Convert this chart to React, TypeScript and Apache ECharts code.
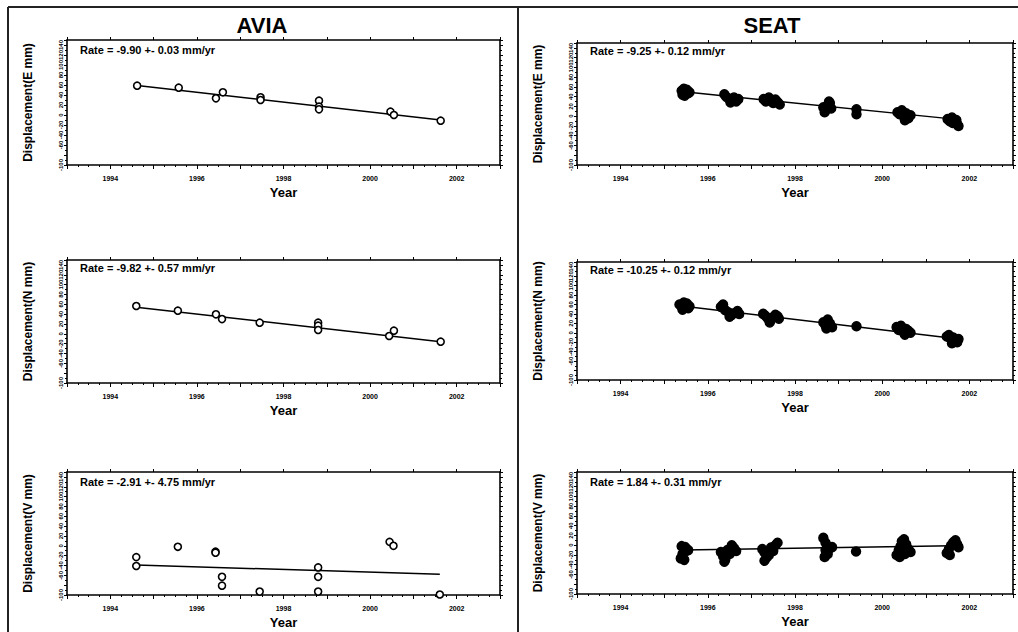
import React, { useEffect, useRef } from "react";
import * as echarts from "echarts";

// ---- tick labels ----
const xTickLabels = [1994, 1996, 1998, 2000, 2002];
const yTickLabels = [-100, -80, -60, -40, -20, 0, 20, 40, 60, 80, 100, 120, 140];

// ---- titles / texts ----
const stations = ["AVIA", "SEAT"];
const rateTexts = [
  "Rate = -9.90 +- 0.03 mm/yr",
  "Rate = -9.25 +- 0.12 mm/yr",
  "Rate = -9.82 +- 0.57 mm/yr",
  "Rate = -10.25 +- 0.12 mm/yr",
  "Rate = -2.91 +- 4.75 mm/yr",
  "Rate = 1.84 +- 0.31 mm/yr",
];

// ---- AVIA E ----
const aviaEYears = [1994.62, 1995.58, 1996.44, 1996.6, 1997.47, 1997.47, 1998.82, 1998.82, 1998.82, 2000.47, 2000.55, 2001.63];
const aviaEVals = [58.6, 54.6, 33.4, 45.4, 35.4, 30, 28.6, 16.6, 11.4, 6.6, 0, -11.4];
const aviaEFitYears = [1994.62, 2001.63];
const aviaEFitVals = [59, -10];

// ---- AVIA N ----
const aviaNYears = [1994.6, 1995.56, 1996.44, 1996.58, 1997.45, 1998.8, 1998.8, 1998.8, 2000.44, 2000.55, 2001.63];
const aviaNVals = [56.5, 47, 39.6, 30, 22.6, 22.6, 16.5, 7.7, -4.5, 6.3, -16];
const aviaNFitYears = [1994.6, 2001.63];
const aviaNFitVals = [54, -16];

// ---- AVIA V ----
const aviaVYears = [1994.6, 1994.6, 1995.56, 1996.43, 1996.43, 1996.58, 1996.58, 1997.45, 1998.8, 1998.8, 1998.8, 2000.45, 2000.54, 2001.61];
const aviaVVals = [-23, -41, -2, -12, -14, -63, -81, -93, -44, -63, -93, 8, 0, -99];
const aviaVFitYears = [1994.6, 2001.61];
const aviaVFitVals = [-39, -58];

// ---- SEAT E ----
const seatEYears = [
  1995.4, 1995.45, 1995.5, 1995.55, 1995.42, 1995.52, 1995.47, 1995.58,
  1996.38, 1996.42, 1996.48, 1996.55, 1996.6, 1996.65, 1996.7, 1996.52,
  1997.28, 1997.33, 1997.4, 1997.45, 1997.5, 1997.55, 1997.6, 1997.65,
  1998.65, 1998.7, 1998.75, 1998.8, 1998.83, 1998.68, 1998.78,
  1999.41, 1999.41,
  2000.35, 2000.4, 2000.45, 2000.5, 2000.55, 2000.6, 2000.65, 2000.52,
  2001.5, 2001.55, 2001.6, 2001.65, 2001.7, 2001.72, 2001.75, 2001.62,
];
const seatEVals = [
  52, 56, 50, 47, 44, 54, 42, 49,
  45, 40, 36, 33, 38, 30, 35, 28,
  35, 30, 38, 32, 27, 34, 29, 24,
  18, 12, 22, 27, 16, 8, 30,
  14, 4,
  8, 4, 12, 0, 6, -4, 2, -8,
  -6, -10, -3, -12, -8, -16, -20, -14,
];
const seatEFitYears = [1995.45, 2001.65];
const seatEFitVals = [50, -6];

// ---- SEAT N ----
const seatNYears = [
  1995.35, 1995.4, 1995.45, 1995.5, 1995.55, 1995.42, 1995.52, 1995.58,
  1996.3, 1996.35, 1996.4, 1996.48, 1996.55, 1996.62, 1996.68, 1996.72, 1996.5,
  1997.27, 1997.32, 1997.38, 1997.44, 1997.5, 1997.55, 1997.6, 1997.63, 1997.42,
  1998.65, 1998.7, 1998.75, 1998.8, 1998.85, 1998.72,
  1999.41,
  2000.33, 2000.38, 2000.43, 2000.48, 2000.55, 2000.6, 2000.65, 2000.52,
  2001.48, 2001.53, 2001.58, 2001.63, 2001.68, 2001.72, 2001.75, 2001.6,
];
const seatNVals = [
  60, 55, 64, 58, 52, 49, 62, 56,
  55, 60, 48, 43, 38, 42, 46, 40, 34,
  40, 36, 30, 26, 33, 38, 35, 30, 22,
  22, 16, 28, 20, 12, 9,
  14,
  12, 6, 15, 2, 8, 4, 0, -4,
  -8, -5, -12, -10, -15, -20, -13, -22,
];
const seatNFitYears = [1995.4, 2001.66];
const seatNFitVals = [57, -12];

// ---- SEAT V ----
const seatVYears = [
  1995.4, 1995.45, 1995.5, 1995.42, 1995.48, 1995.38, 1995.55, 1995.46,
  1996.3, 1996.35, 1996.4, 1996.45, 1996.5, 1996.55, 1996.6, 1996.65, 1996.38,
  1997.25, 1997.3, 1997.35, 1997.4, 1997.45, 1997.5, 1997.55, 1997.6, 1997.3,
  1998.65, 1998.7, 1998.75, 1998.7, 1998.8, 1998.75, 1998.68, 1998.85,
  1999.4,
  2000.33, 2000.38, 2000.42, 2000.45, 2000.5, 2000.55, 2000.6, 2000.65, 2000.4, 2000.52,
  2001.48, 2001.53, 2001.58, 2001.63, 2001.68, 2001.72, 2001.75, 2001.55,
];
const seatVVals = [
  -2, -8, -12, -18, -4, -27, -10, -30,
  -14, -22, -30, -10, -18, 0, -6, -12, -34,
  -8, -15, -25, -20, -5, -12, 0, 5, -32,
  15, 5, -2, -10, -6, -18, -24, -4,
  -13,
  -20, -10, -2, 8, 12, 2, -8, -14, -24, -18,
  -16, -8, 0, 6, 10, 2, -4, -20,
];
const seatVFitYears = [1995.45, 2001.6];
const seatVFitVals = [-10, -1];

const FONT = "Liberation Sans, Arial, sans-serif";

const zip = (xs: number[], ys: number[]) => xs.map((x, i) => [x, ys[i]]);

// panel order: row-major (AVIA E, SEAT E, AVIA N, SEAT N, AVIA V, SEAT V)
const panels = [
  { pts: zip(aviaEYears, aviaEVals), fit: zip(aviaEFitYears, aviaEFitVals), comp: "E", seat: false },
  { pts: zip(seatEYears, seatEVals), fit: zip(seatEFitYears, seatEFitVals), comp: "E", seat: true },
  { pts: zip(aviaNYears, aviaNVals), fit: zip(aviaNFitYears, aviaNFitVals), comp: "N", seat: false },
  { pts: zip(seatNYears, seatNVals), fit: zip(seatNFitYears, seatNFitVals), comp: "N", seat: true },
  { pts: zip(aviaVYears, aviaVVals), fit: zip(aviaVFitYears, aviaVFitVals), comp: "V", seat: false },
  { pts: zip(seatVYears, seatVVals), fit: zip(seatVFitYears, seatVFitVals), comp: "V", seat: true },
];

// layout (pixels)
const gridBoxes = [
  { left: 67, top: 40, width: 433, height: 125 },
  { left: 577, top: 43, width: 436, height: 122 },
  { left: 67, top: 260, width: 433, height: 123 },
  { left: 577, top: 262, width: 436, height: 118 },
  { left: 67, top: 472, width: 433, height: 123 },
  { left: 577, top: 472, width: 436, height: 122 },
];
const ratePos = [
  [80, 50], [590, 51], [80, 268], [590, 270], [80, 482], [590, 482],
];

function buildOption() {
  const grid: any[] = [];
  const xAxis: any[] = [];
  const yAxis: any[] = [];
  const series: any[] = [];
  const line = { show: true, lineStyle: { color: "#000", width: 1.6 } };

  panels.forEach((p, i) => {
    grid.push({ ...gridBoxes[i], containLabel: false });
    xAxis.push({
      gridIndex: i,
      type: "value",
      min: 1993,
      max: 2003,
      interval: 1,
      position: "bottom",
      axisLine: { ...line, onZero: false },
      axisTick: { show: true, length: 4, lineStyle: { color: "#000", width: 1 } },
      minorTick: { show: true, splitNumber: 4, length: 2, lineStyle: { color: "#000" } },
      splitLine: { show: false },
      axisLabel: {
        formatter: (v: number) => (xTickLabels.includes(v) ? String(v) : ""),
        fontSize: 7,
        fontWeight: "bold",
        fontFamily: FONT,
        color: "#000",
        margin: 10,
      },
      name: "Year",
      nameLocation: "middle",
      nameGap: 21,
      nameTextStyle: { fontSize: 13, fontWeight: "bold", fontFamily: FONT, color: "#000" },
    });
    xAxis.push({
      gridIndex: i,
      type: "value",
      min: 1993,
      max: 2003,
      interval: 1,
      position: "top",
      axisLine: { ...line, onZero: false },
      axisTick: { show: true, length: 3, lineStyle: { color: "#000", width: 1 } },
      axisLabel: { show: false },
      splitLine: { show: false },
    });
    yAxis.push({
      gridIndex: i,
      type: "value",
      min: -100,
      max: 150,
      interval: 20,
      position: "left",
      axisLine: { ...line, onZero: false },
      axisTick: { show: true, length: 3, lineStyle: { color: "#000", width: 1 } },
      minorTick: { show: true, splitNumber: 2, length: 2, lineStyle: { color: "#000" } },
      splitLine: { show: false },
      axisLabel: {
        rotate: 90,
        fontSize: 6,
        fontWeight: "bold",
        fontFamily: FONT,
        color: "#000",
        margin: 3,
        showMinLabel: true,
        showMaxLabel: false,
        hideOverlap: false,
        formatter: (v: number) => (yTickLabels.includes(v) ? String(v) : ""),
      },
      name: "Displacement(" + p.comp + " mm)",
      nameLocation: "middle",
      nameRotate: 90,
      nameGap: 33,
      nameTextStyle: { fontSize: 12, fontWeight: "bold", fontFamily: FONT, color: "#000" },
    });
    yAxis.push({
      gridIndex: i,
      type: "value",
      min: -100,
      max: 150,
      interval: 20,
      position: "right",
      axisLine: { ...line, onZero: false },
      axisTick: { show: true, length: 3, lineStyle: { color: "#000", width: 1 } },
      minorTick: { show: true, splitNumber: 2, length: 2, lineStyle: { color: "#000" } },
      axisLabel: { show: false },
      splitLine: { show: false },
    });
    series.push({
      type: "line",
      xAxisIndex: 2 * i,
      yAxisIndex: 2 * i,
      data: p.fit,
      symbol: "none",
      lineStyle: { color: "#000", width: 1.5 },
      z: 2,
    });
    series.push({
      type: "scatter",
      xAxisIndex: 2 * i,
      yAxisIndex: 2 * i,
      data: p.pts,
      symbol: "circle",
      symbolSize: p.seat ? 9 : 7,
      itemStyle: p.seat
        ? { color: "#000", borderColor: "#000", borderWidth: 1.5, opacity: 1 }
        : { color: "#fff", borderColor: "#000", borderWidth: 1.6, opacity: 1 },
      z: 3,
    });
  });

  const graphic: any[] = [
    { type: "line", shape: { x1: 8, y1: 7, x2: 1018, y2: 7 }, style: { stroke: "#222", lineWidth: 2 } },
    { type: "line", shape: { x1: 8, y1: 7, x2: 8, y2: 632 }, style: { stroke: "#222", lineWidth: 2 } },
    { type: "line", shape: { x1: 518, y1: 7, x2: 518, y2: 632 }, style: { stroke: "#222", lineWidth: 2 } },
    {
      type: "text", x: 262, y: 25,
      style: { text: stations[0], fill: "#000", font: "bold 22px " + FONT, textAlign: "center", textVerticalAlign: "middle" },
    },
    {
      type: "text", x: 772, y: 25,
      style: { text: stations[1], fill: "#000", font: "bold 22px " + FONT, textAlign: "center", textVerticalAlign: "middle" },
    },
  ];
  rateTexts.forEach((t, i) => {
    graphic.push({
      type: "text",
      x: ratePos[i][0],
      y: ratePos[i][1],
      z: 10,
      style: { text: t, fill: "#000", font: "bold 11px " + FONT, textAlign: "left", textVerticalAlign: "middle" },
    });
  });

  return { animation: false, backgroundColor: "#fff", grid, xAxis, yAxis, series, graphic };
}

export default function App() {
  const ref = useRef<HTMLDivElement>(null);
  useEffect(() => {
    if (!ref.current) return;
    const chart = echarts.init(ref.current, undefined, { renderer: "svg" });
    chart.setOption(buildOption());
    return () => chart.dispose();
  }, []);
  return (
    <div
      ref={ref}
      style={{ position: "fixed", left: 0, top: 0, width: 1018, height: 632, background: "#fff" }}
    />
  );
}
